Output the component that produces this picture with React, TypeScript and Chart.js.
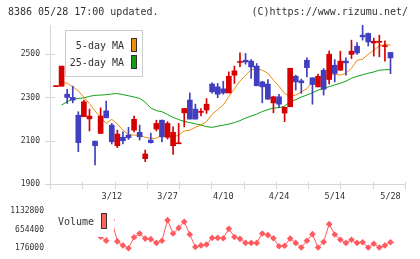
import React, { useEffect, useRef } from "react";
import { Chart, registerables } from "chart.js";
Chart.register(...registerables);

// ---- data ----
const dateLabels = ["3/12", "3/27", "4/10", "4/24", "5/14", "5/28"];
const dateIndex = [10, 20, 30, 40, 50, 60];

const opens = [2350,2352,2315,2300,2218,2211,2201,2098,2134,2238, 2172,2077,2116,2126,2149,2139,2017,2103,2154,2195, 2116,2077,2086,2229,2288,2246,2231,2242,2362,2349, 2340,2321,2403,2462,2472,2468,2445,2372,2362,2275, 2303,2228,2257,2398,2377,2472,2391,2349,2426,2383, 2449,2426,2468,2499,2537,2588,2596,2552,2555,2535, 2508];
const highs = [2354,2445,2338,2352,2234,2288,2246,2098,2252,2283, 2180,2149,2141,2162,2214,2172,2057,2135,2195,2195, 2188,2164,2180,2249,2321,2269,2249,2295,2368,2365, 2375,2418,2445,2506,2503,2475,2457,2375,2383,2306, 2314,2255,2435,2403,2385,2483,2391,2408,2434,2515, 2475,2514,2483,2565,2554,2640,2598,2574,2588,2562, 2508];
const lows = [2350,2352,2272,2275,2049,2211,2145,1988,2134,2206, 2085,2068,2085,2106,2141,2103,2003,2089,2145,2095, 2108,2037,2086,2164,2200,2200,2215,2226,2320,2299, 2315,2321,2365,2442,2454,2388,2354,2275,2292,2229, 2254,2188,2257,2334,2319,2395,2269,2349,2311,2362, 2372,2426,2403,2480,2499,2565,2538,2491,2488,2468, 2410];
const closes = [2354,2445,2300,2288,2091,2280,2214,2077,2214,2206, 2095,2131,2100,2114,2199,2118,2039,2091,2180,2118, 2180,2139,2090,2249,2200,2200,2235,2269,2326,2315, 2321,2398,2423,2466,2464,2441,2354,2349,2292,2303, 2269,2255,2435,2372,2368,2438,2360,2398,2338,2500, 2411,2468,2460,2514,2506,2580,2557,2560,2559,2539, 2483];

const ma5 = [null, 2368,2366,2349,2331,2300,2272,2238,2208,2180, 2199,2177,2149,2129,2126,2126,2116,2111,2111,2126, 2118,2116,2126,2145,2149,2162,2172,2188,2223,2244, 2265,2304,2341,2375,2403,2428,2433,2426,2412,2380, 2352,2318,2306,2311,2325,2341,2373,2385,2388,2400, 2408,2403,2412,2435,2472,2477,2500,2518,2539,2545, 2542];
const ma25 = [null, 2265,2281,2292,2296,2298,2305,2310,2311,2313, 2316,2318,2313,2308,2302,2296,2278,2251,2239,2234, 2221,2208,2198,2189,2184,2178,2173,2165,2162,2167, 2172,2177,2184,2193,2205,2214,2223,2235,2244,2251, 2253,2260,2281,2290,2302,2311,2322,2334,2341,2350, 2358,2366,2375,2389,2398,2405,2412,2418,2426,2428, 2429];

const volume = [null,null,null,null,null,null,null,null, 470000, 367000,
  898000,350000,248000,176000,456000,551000,422000,408000,312000,367000,
  894000,551000,695000,853000,527000,207000,248000,272000,439000,439000,
  432000,671000,463000,415000,312000,312000,312000,551000,511000,432000,
  224000,240000,422000,312000,193000,367000,535000,193000,336000,791000,
  527000,391000,312000,391000,312000,327000,193000,288000,193000,248000,
  327000];

const priceTicks = [1900, 2100, 2300, 2500];
const volumeTicks = [176000, 654400, 1132800];

// ---- scale ranges / styles ----
const X_MIN = -1.08;
const X_MAX = 62.6;
const P_MIN = 1900;
const P_MAX = 2635;
const V_MIN = 176000;
const V_MAX = 1132800;

const UP = "#d60000";
const DOWN = "#3f3fbf";
const ORANGE = "#f08c0a";
const GREEN = "#12a012";
const VOL = "#ff5a5f";
const AXIS = "#d6d6d6";
const TEXT = "#333333";
const MONO = "'DejaVu Sans Mono', monospace";

const mainDecor = {
  id: "mainDecor",
  afterDraw(chart: any) {
    const { ctx, chartArea, scales } = chart;
    const { left, bottom } = chartArea;
    ctx.save();
    ctx.strokeStyle = AXIS;
    ctx.lineWidth = 1;
    ctx.beginPath();
    for (let k = 0; k <= 11; k++) {
      const px = Math.round(scales.x.getPixelForValue(X_MIN + (k * (X_MAX - X_MIN)) / 11)) + 0.5;
      ctx.moveTo(px, bottom - 2);
      ctx.lineTo(px, bottom + 5);
    }
    for (const v of priceTicks) {
      const py = Math.round(scales.y.getPixelForValue(v)) + 0.5;
      ctx.moveTo(left - 5, py);
      ctx.lineTo(left + 5, py);
    }
    ctx.stroke();

    // legend box
    ctx.fillStyle = "#ffffff";
    ctx.fillRect(65, 30, 78, 47);
    ctx.strokeStyle = "#cccccc";
    ctx.strokeRect(65.5, 30.5, 77, 46);
    ctx.font = `10px ${MONO}`;
    ctx.fillStyle = TEXT;
    ctx.textAlign = "right";
    ctx.textBaseline = "middle";
    const ds = chart.data.datasets;
    ctx.fillText(ds[2].label, 124, 46);
    ctx.fillText(ds[3].label, 124, 63);
    ctx.strokeStyle = "#333333";
    ctx.fillStyle = ORANGE;
    ctx.fillRect(131.5, 38.5, 5, 13);
    ctx.strokeRect(131.5, 38.5, 5, 13);
    ctx.fillStyle = GREEN;
    ctx.fillRect(131.5, 55.5, 5, 13);
    ctx.strokeRect(131.5, 55.5, 5, 13);
    ctx.restore();
  },
};

const volDecor = {
  id: "volDecor",
  afterDatasetsDraw(chart: any) {
    const { ctx } = chart;
    ctx.save();
    ctx.fillStyle = "#ffffff";
    ctx.fillRect(50, 4, 64, 33);
    ctx.font = `10px ${MONO}`;
    ctx.fillStyle = TEXT;
    ctx.textAlign = "right";
    ctx.textBaseline = "middle";
    ctx.fillText(chart.data.datasets[0].label, 94, 22);
    ctx.fillStyle = "#ff6060";
    ctx.strokeStyle = "#333333";
    ctx.fillRect(101.5, 13.5, 5, 15);
    ctx.strokeRect(101.5, 13.5, 5, 15);
    ctx.restore();
  },
};

export default function App() {
  const mainRef = useRef<HTMLCanvasElement>(null);
  const volRef = useRef<HTMLCanvasElement>(null);

  useEffect(() => {
    const colors = opens.map((o, i) => (closes[i] >= o ? UP : DOWN));
    const main = new Chart(mainRef.current as HTMLCanvasElement, {
      type: "bar",
      data: {
        datasets: [
          {
            type: "bar",
            label: "body",
            data: opens.map((o, i) => ({ x: i, y: [o, closes[i]] })) as any,
            backgroundColor: colors,
            barThickness: 5,
            grouped: false,
            minBarLength: 1,
            order: 0,
          } as any,
          {
            type: "bar",
            label: "wick",
            data: lows.map((l, i) => ({ x: i, y: [l, highs[i]] })) as any,
            backgroundColor: colors,
            barThickness: 1,
            grouped: false,
            order: 1,
          } as any,
          {
            type: "line",
            label: "5-day MA",
            data: ma5.map((v, i) => ({ x: i, y: v })).filter((p) => p.y != null) as any,
            borderColor: ORANGE,
            borderWidth: 1,
            pointRadius: 0,
            order: 2,
          } as any,
          {
            type: "line",
            label: "25-day MA",
            data: ma25.map((v, i) => ({ x: i, y: v })).filter((p) => p.y != null) as any,
            borderColor: GREEN,
            borderWidth: 1,
            pointRadius: 0,
            order: 3,
          } as any,
        ],
      },
      options: {
        animation: false,
        responsive: false,
        events: [],
        layout: { padding: { top: 25, right: 15, left: 0, bottom: 0 } },
        plugins: { legend: { display: false }, tooltip: { enabled: false } },
        scales: {
          x: {
            type: "linear",
            min: X_MIN,
            max: X_MAX,
            offset: false,
            grid: { display: false, drawTicks: false },
            border: { display: true, color: AXIS },
            ticks: {
              font: { family: MONO, size: 8.5 },
              color: TEXT,
              padding: 8,
              autoSkip: false,
              maxRotation: 0,
              callback: (v: any) => {
                const k = dateIndex.indexOf(Number(v));
                return k >= 0 ? dateLabels[k] : "";
              },
            },
            afterBuildTicks: (s: any) => {
              s.ticks = dateIndex.map((v) => ({ value: v }));
            },
            afterFit: (s: any) => {
              s.height = 21;
            },
          } as any,
          y: {
            type: "linear",
            min: P_MIN,
            max: P_MAX,
            grid: { display: false, drawTicks: false },
            border: { display: true, color: AXIS },
            ticks: {
              font: { family: MONO, size: 8 },
              color: TEXT,
              padding: 10,
              callback: (v: any) => String(v),
            },
            afterBuildTicks: (s: any) => {
              s.ticks = priceTicks.map((v) => ({ value: v }));
            },
            afterFit: (s: any) => {
              s.width = 50;
            },
          } as any,
        },
      },
      plugins: [mainDecor],
    });

    const vol = new Chart(volRef.current as HTMLCanvasElement, {
      type: "line",
      data: {
        datasets: [
          {
            label: "Volume",
            data: volume.map((v, i) => ({ x: i, y: v })) as any,
            borderColor: VOL,
            backgroundColor: VOL,
            borderWidth: 1,
            pointStyle: "rectRot",
            pointRadius: 3.3,
            pointBorderWidth: 0,
            pointBackgroundColor: VOL,
            clip: false,
            spanGaps: false,
          } as any,
        ],
      },
      options: {
        animation: false,
        responsive: false,
        events: [],
        layout: { padding: { top: 9, right: 15, left: 0, bottom: 10 } },
        plugins: { legend: { display: false }, tooltip: { enabled: false } },
        scales: {
          x: { type: "linear", min: X_MIN, max: X_MAX, display: false, offset: false },
          y: {
            type: "linear",
            min: V_MIN,
            max: V_MAX,
            grid: { display: false, drawTicks: false },
            border: { display: false },
            ticks: {
              font: { family: MONO, size: 8 },
              color: TEXT,
              padding: 6,
              callback: (v: any) => String(v),
            },
            afterBuildTicks: (s: any) => {
              s.ticks = volumeTicks.map((v) => ({ value: v }));
            },
            afterFit: (s: any) => {
              s.width = 50;
            },
          } as any,
        },
      },
      plugins: [volDecor],
    });

    return () => {
      main.destroy();
      vol.destroy();
    };
  }, []);

  const headStyle: React.CSSProperties = {
    position: "absolute",
    top: 6,
    font: `10px ${MONO}`,
    lineHeight: "12px",
    color: TEXT,
    whiteSpace: "pre",
  };

  return (
    <div style={{ position: "absolute", left: 0, top: 0, width: 420, height: 259, background: "#fff", overflow: "hidden" }}>
      <canvas ref={mainRef} width={420} height={205} style={{ position: "absolute", left: 0, top: 0 }} />
      <canvas ref={volRef} width={420} height={59} style={{ position: "absolute", left: 0, top: 200 }} />
      <div style={{ ...headStyle, left: 8 }}>8386 05/28 17:00 updated.</div>
      <div style={{ ...headStyle, left: 0, width: 408, textAlign: "right" }}>(C)https://www.rizumu.net/</div>
    </div>
  );
}
